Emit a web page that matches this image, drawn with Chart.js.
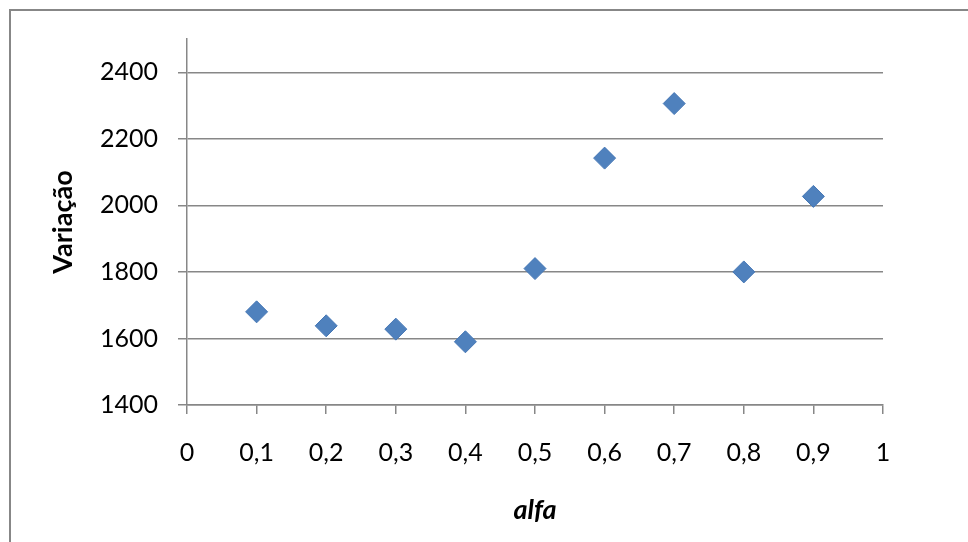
<!DOCTYPE html>
<html>
<head>
<meta charset="utf-8">
<script src="https://cdn.jsdelivr.net/npm/chart.js@4/dist/chart.umd.min.js"></script>
<style>
  body { margin: 0; background: #fff; }
  #wrap { position: relative; width: 968px; height: 542px; overflow: hidden; }
  #frame { position: absolute; left: 9px; top: 9px; width: 1000px; height: 600px;
           border-top: 2px solid #878787; border-left: 2px solid #878787; }
  canvas { position: absolute; left: 0; top: 0; }
</style>
</head>
<body>
<div id="wrap">
  <div id="frame"></div>
  <canvas id="myChart" width="968" height="542"></canvas>
</div>
<script>
// valores
var alfa = [0.1, 0.2, 0.3, 0.4, 0.5, 0.6, 0.7, 0.8, 0.9]
var variacao = [1680, 1638, 1628, 1590, 1810, 2142, 2306, 1800, 2027]
var xTicks = [0, 0.1, 0.2, 0.3, 0.4, 0.5, 0.6, 0.7, 0.8, 0.9, 1]
var xLabels = ['0', '0,1', '0,2', '0,3', '0,4', '0,5', '0,6', '0,7', '0,8', '0,9', '1']
var yTicks = [1400, 1600, 1800, 2000, 2200, 2400]

var points = []
for (var i = 0; i < alfa.length; i++) {
    points.push({x: alfa[i], y: variacao[i]})
}

var grey = '#878787'
var font = {family: 'Lato', size: 25}

var ctx = document.getElementById('myChart').getContext('2d')
var chart = new Chart(ctx, {
    type: 'scatter',
    data: {
        datasets: [{
            label: 'Variação',
            data: points,
            pointStyle: 'rectRot',
            pointRadius: 11,
            pointHoverRadius: 11,
            backgroundColor: '#4F81BD',
            borderColor: '#4677B5',
            borderWidth: 1
        }]
    },
    options: {
        responsive: false,
        animation: false,
        layout: {padding: {top: 39, right: 85, bottom: 16, left: 0}},
        plugins: {legend: {display: false}, tooltip: {enabled: false}},
        scales: {
            x: {
                type: 'linear',
                min: 0,
                max: 1,
                afterBuildTicks: function(scale) {
                    scale.ticks = xTicks.map(function(v){ return {value: v} })
                },
                afterFit: function(scale) { scale.height = 121 },
                ticks: {
                    color: '#000',
                    font: font,
                    padding: 24,
                    maxRotation: 0,
                    autoSkip: false,
                    callback: function(value, index) { return xLabels[index] }
                },
                grid: {drawOnChartArea: false, drawTicks: true, tickLength: 9, color: grey, lineWidth: 1.5},
                border: {color: grey, width: 1.5},
                title: {
                    display: true,
                    text: 'alfa',
                    color: '#000',
                    font: {family: 'Lato', size: 27, weight: 'bold', style: 'italic'},
                    padding: {top: 0, bottom: 0}
                }
            },
            y: {
                min: 1400,
                max: 2500,
                afterBuildTicks: function(scale) {
                    scale.ticks = yTicks.map(function(v){ return {value: v} })
                },
                afterFit: function(scale) { scale.width = 187 },
                ticks: {
                    color: '#000',
                    font: font,
                    padding: 20,
                    callback: function(value) { return String(value) }
                },
                grid: {color: grey, lineWidth: 1.5, tickLength: 9},
                border: {color: grey, width: 1.5},
                title: {
                    display: true,
                    text: 'Variação',
                    color: '#000',
                    font: {family: 'Lato', size: 27, weight: 'bold'},
                    padding: {top: 47, bottom: 0}
                }
            }
        }
    }
})
</script>
</body>
</html>
